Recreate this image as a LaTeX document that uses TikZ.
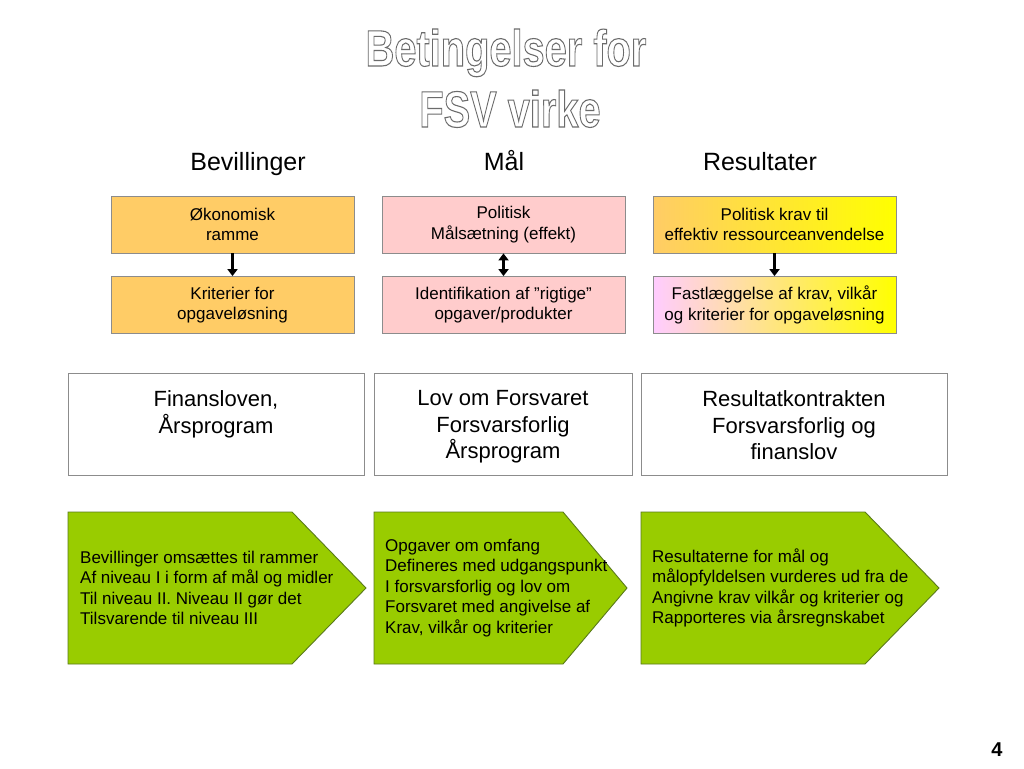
\documentclass[tikz,border=0pt]{standalone}
\usepackage{fontspec}
\setmainfont{Liberation Sans}
\usepackage{graphicx}
\usetikzlibrary{arrows.meta}
\definecolor{orng}{HTML}{FFCC66}
\definecolor{pnk}{HTML}{FFCCCC}
\definecolor{lilac}{HTML}{FFCCFF}
\definecolor{yel}{HTML}{FFFF00}
\definecolor{grn}{HTML}{99CC00}
\definecolor{grnedge}{HTML}{5A7A1A}
\definecolor{boxedge}{HTML}{8C8C8C}
\newcommand{\outlinetext}[1]{\special{pdf:literal 1 Tr 1.1 w 0.42 G}#1\special{pdf:literal 0 Tr 0 G}}
\tikzset{
  sbox/.style={draw=boxedge, line width=0.8pt, minimum width=243pt, minimum height=57pt,
    align=center, inner sep=0pt, font=\fontsize{17}{20.5}\selectfont},
  bbox/.style={draw=boxedge, line width=0.8pt, fill=white, minimum height=102pt, inner sep=0pt},
  btext/.style={align=center, inner sep=0pt, anchor=north, font=\fontsize{22}{26.5}\selectfont},
  head/.style={anchor=base, inner sep=0pt, font=\fontsize{25}{30}\selectfont},
  titl/.style={anchor=base, inner sep=0pt, font=\bfseries\fontsize{51}{60}\selectfont},
  arr/.style={line width=2.8pt, -{Triangle[length=7pt,width=10pt]}},
  darr/.style={line width=2.8pt, {Triangle[length=7pt,width=10pt]}-{Triangle[length=7pt,width=10pt]}},
  pent/.style={draw=grnedge, line width=0.9pt, fill=grn},
  ptext/.style={anchor=west, align=left, inner sep=0pt, font=\fontsize{17}{20.5}\selectfont}
}
\begin{document}
\begin{tikzpicture}[x=1pt, y=-1pt]
\useasboundingbox[fill=white] (0,0) rectangle (1024,768);

% title
\node[titl] (t1) at (506,66) {\scalebox{0.78}[1]{\outlinetext{Betingelser for}}};
\node[titl] (t2) at (510,127) {\scalebox{0.78}[1]{\outlinetext{FSV virke}}};

% headers
\node[head] (h1) at (248,170) {Bevillinger};
\node[head] (h2) at (504,170) {Mål};
\node[head] (h3) at (760,170) {Resultater};

% small boxes
\node[sbox, fill=orng] (a1) at (232.5,224.5) {Økonomisk\\ramme};
\node[sbox, fill=orng] (a2) at (232.5,305) {Kriterier for\\opgaveløsning};
\node[sbox, fill=pnk] (b1) at (503.5,224.5) {Politisk\\Målsætning (effekt)};
\node[sbox, fill=pnk] (b2) at (503.5,305) {Identifikation af ”rigtige”\\opgaver/produkter};
\node[sbox, left color=orng, right color=yel] (c1) at (774.5,224.5) {Politisk krav til\\effektiv ressourceanvendelse};
\node[sbox, left color=lilac, right color=yel] (c2) at (774.5,305) {Fastlæggelse af krav, vilkår\\og kriterier for opgaveløsning};

\draw[arr] (a1) -- (a2);
\draw[darr] (b1) -- (b2);
\draw[arr] (c1) -- (c2);

% law boxes
\node[bbox, minimum width=296pt] (l1) at (216,424) {};
\node[bbox, minimum width=258pt] (l2) at (503,424) {};
\node[bbox, minimum width=306pt] (l3) at (794,424) {};
\node[btext] (l1t) at ([yshift=-18pt]l1.north) {Finansloven,\\Årsprogram};
\node[btext] (l2t) at ([yshift=-18pt]l2.north) {Lov om Forsvaret\\Forsvarsforlig\\Årsprogram};
\node[btext] (l3t) at ([yshift=-18pt]l3.north) {Resultatkontrakten\\Forsvarsforlig og\\finanslov};

% pentagons
\draw[pent] (68,512) -- (292,512) -- (366,588) -- (292,664) -- (68,664) -- cycle;
\draw[pent] (374,512) -- (563,512) -- (627,588) -- (563,664) -- (374,664) -- cycle;
\draw[pent] (641,512) -- (865,512) -- (939,588) -- (865,664) -- (641,664) -- cycle;
\node[ptext] (p1) at (80,588) {Bevillinger omsættes til rammer\\Af niveau I i form af mål og midler\\Til niveau II. Niveau II gør det\\Tilsvarende til niveau III};
\node[ptext] (p2) at (385,588) {Opgaver om omfang\\Defineres med udgangspunkt\\I forsvarsforlig og lov om\\Forsvaret med angivelse af\\Krav, vilkår og kriterier};
\node[ptext] (p3) at (652,588) {Resultaterne for mål og\\målopfyldelsen vurderes ud fra de\\Angivne krav vilkår og kriterier og\\Rapporteres via årsregnskabet};

% page number
\node[inner sep=0pt, font=\bfseries\fontsize{20}{24}\selectfont] (pg) at (997,750) {4};
\end{tikzpicture}
\end{document}
